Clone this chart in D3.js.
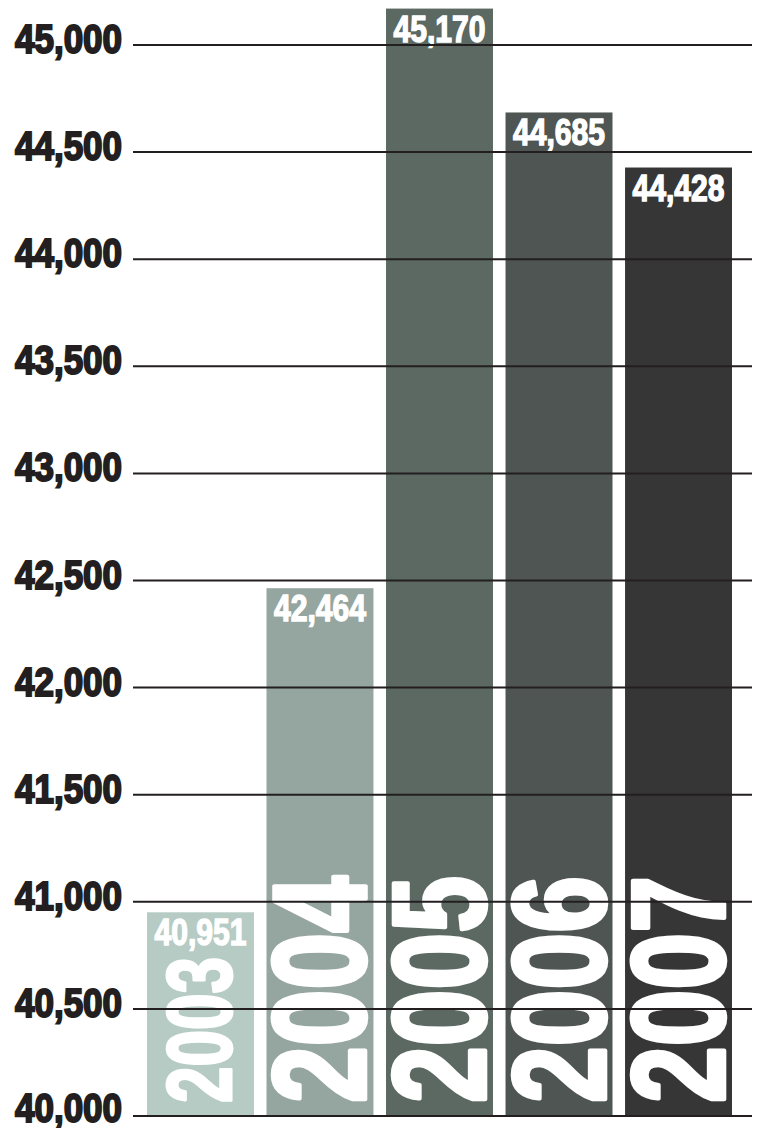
<!DOCTYPE html>
<html>
<head>
  <meta charset="utf-8">
  <style>
body { margin: 0; background: #fff; }
svg text {
  font-family: "Liberation Sans Narrow", "Liberation Sans", "DejaVu Sans Condensed", sans-serif;
  font-weight: bold;
}
  </style>
</head>
<body>
  <svg id="chart" width="759" height="1128"></svg>
  <script src="https://cdn.jsdelivr.net/npm/d3@7"></script>
  <script>
// Data
var years = ["2003", "2004", "2005", "2006", "2007"];
var values = [40951, 42464, 45170, 44685, 44428];
var barColors = ["#b5cbc3", "#95a59f", "#5b6962", "#4e5552", "#363636"];
var tickValues = [40000, 40500, 41000, 41500, 42000, 42500, 43000, 43500, 44000, 44500, 45000];

var svg = d3.select("#chart");

var x = d3.scaleBand()
    .domain(years)
    .range([147, 732])
    .paddingInner(0.105)
    .paddingOuter(0);

var y = d3.scaleLinear()
    .domain([40000, 45000])
    .range([1116, 45]);

var fmt = d3.format(",d");

var data = years.map(function(d, i) {
  return {year: d, value: values[i], color: barColors[i]};
});

// Bars
svg.selectAll("rect.bar")
  .data(data)
  .enter().append("rect")
    .attr("class", "bar")
    .attr("x", function(d) { return x(d.year); })
    .attr("y", function(d) { return y(d.value); })
    .attr("width", x.bandwidth())
    .attr("height", function(d) { return y(40000) - y(d.value); })
    .attr("fill", function(d) { return d.color; });

// Value labels at the top of each bar
svg.selectAll("text.value")
  .data(data)
  .enter().append("text")
    .attr("class", "value")
    .attr("x", function(d) { return x(d.year) + x.bandwidth() / 2; })
    .attr("y", function(d) { return y(d.value) + 33; })
    .attr("text-anchor", "middle")
    .attr("font-size", 36)
    .attr("textLength", 92)
    .attr("lengthAdjust", "spacingAndGlyphs")
    .attr("fill", "#fff")
    .attr("stroke", "#fff")
    .attr("stroke-width", 1.4)
    .text(function(d) { return fmt(d.value); });

// Big vertical year labels (first one is smaller, it has a short bar)
svg.selectAll("g.year")
  .data(data)
  .enter().append("g")
    .attr("class", "year")
    .attr("transform", function(d, i) {
      var cap = i === 0 ? 62 : 91;
      return "translate(" + (x(d.year) + x.bandwidth() / 2 + cap / 2) + ",1103) rotate(-90)";
    })
  .append("text")
    .attr("x", 0)
    .attr("y", 0)
    .attr("font-size", function(d, i) { return i === 0 ? 90 : 132; })
    .attr("textLength", function(d, i) { return i === 0 ? 146 : 227; })
    .attr("lengthAdjust", "spacingAndGlyphs")
    .attr("fill", "#fff")
    .attr("stroke", "#fff")
    .attr("stroke-width", function(d, i) { return i === 0 ? 3 : 4.5; })
    .attr("stroke-linejoin", "round")
    .text(function(d) { return d.year; });

// Y axis tick labels
svg.selectAll("text.tick")
  .data(tickValues)
  .enter().append("text")
    .attr("class", "tick")
    .attr("x", 15)
    .attr("y", function(d) { return y(d) + (d === 40000 ? 6 : 8); })
    .attr("font-size", 40)
    .attr("textLength", 107)
    .attr("lengthAdjust", "spacingAndGlyphs")
    .attr("fill", "#231f20")
    .attr("stroke", "#231f20")
    .attr("stroke-width", 2)
    .text(function(d) { return fmt(d); });

// Gridlines drawn over everything
svg.selectAll("line.grid")
  .data(tickValues)
  .enter().append("line")
    .attr("class", "grid")
    .attr("x1", 133)
    .attr("x2", 752)
    .attr("y1", function(d) { return y(d); })
    .attr("y2", function(d) { return y(d); })
    .attr("stroke", "#231f20")
    .attr("stroke-width", 2);
  </script>
</body>
</html>
